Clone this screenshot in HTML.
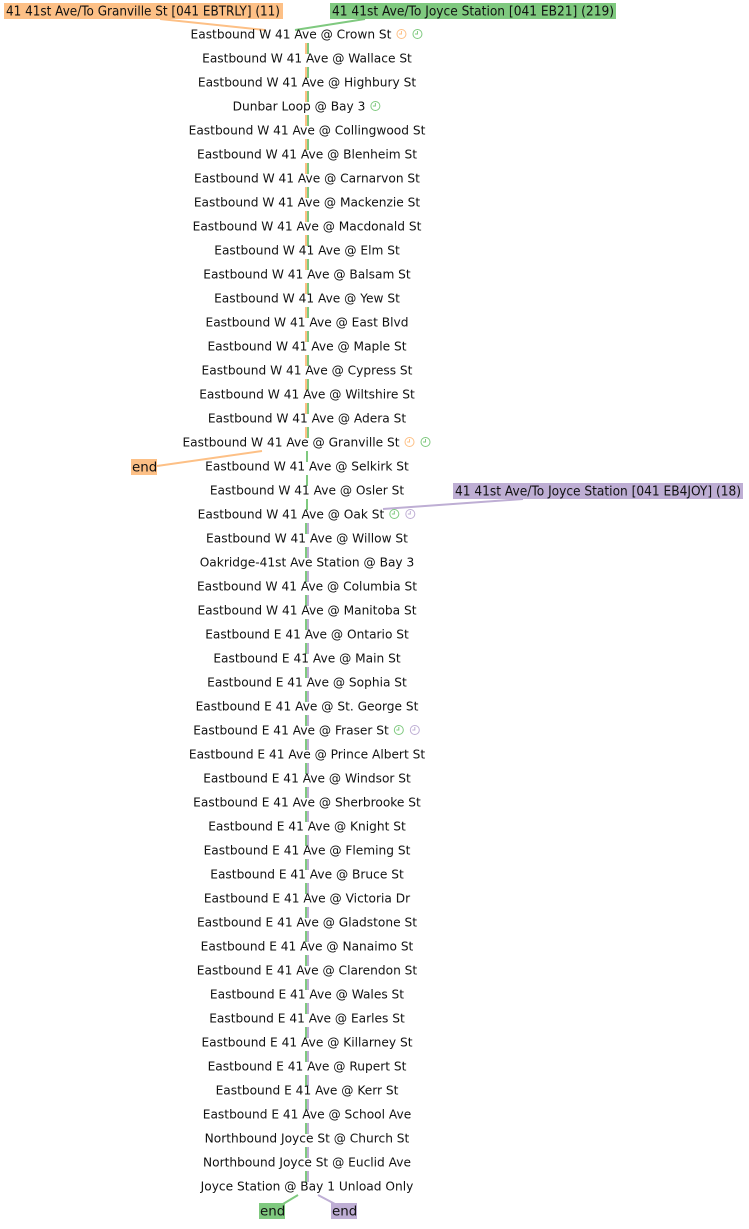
<!DOCTYPE html>
<html><head><style>
html,body{margin:0;padding:0;background:#fff;}
svg text{font-family:"DejaVu Sans","Liberation Sans",sans-serif;font-size:12.2px;fill:#111;}
svg text.tag{font-size:13.4px;}
</style></head><body>
<svg width="749" height="1224" xmlns="http://www.w3.org/2000/svg">
<g id="segs"></g>
<rect x="4" y="3" width="279" height="16" fill="#fdc086"/>
<text class="tag" x="6" y="15.5" textLength="274" lengthAdjust="spacingAndGlyphs">41 41st Ave/To Granville St [041 EBTRLY] (11)</text>
<rect x="330" y="3" width="286" height="16" fill="#7fc97f"/>
<text class="tag" x="332" y="15.5" textLength="282" lengthAdjust="spacingAndGlyphs">41 41st Ave/To Joyce Station [041 EB21] (219)</text>
<rect x="453" y="483" width="290" height="16" fill="#beaed4"/>
<text class="tag" x="455" y="495.5" textLength="286" lengthAdjust="spacingAndGlyphs">41 41st Ave/To Joyce Station [041 EB4JOY] (18)</text>
<rect x="131" y="459" width="26" height="16" fill="#fdc086"/>
<text class="tag" x="132" y="471.5">end</text>
<rect x="259" y="1203" width="26" height="16" fill="#7fc97f"/>
<text class="tag" x="260" y="1215.5">end</text>
<rect x="331" y="1203" width="26" height="16" fill="#beaed4"/>
<text class="tag" x="332" y="1215.5">end</text>
<line x1="160" y1="19" x2="265" y2="30" stroke="#fdc086" stroke-width="2"/>
<line x1="365" y1="19" x2="295" y2="30" stroke="#7fc97f" stroke-width="2"/>
<line x1="262" y1="451" x2="157" y2="466" stroke="#fdc086" stroke-width="2"/>
<line x1="523" y1="499" x2="383" y2="509" stroke="#beaed4" stroke-width="2"/>
<line x1="298" y1="1195" x2="283" y2="1204" stroke="#7fc97f" stroke-width="2"/>
<line x1="318" y1="1195" x2="335" y2="1204" stroke="#beaed4" stroke-width="2"/>
<g id="labels"></g>
</svg>
<script>
var names=["Eastbound W 41 Ave @ Crown St","Eastbound W 41 Ave @ Wallace St","Eastbound W 41 Ave @ Highbury St","Dunbar Loop @ Bay 3","Eastbound W 41 Ave @ Collingwood St","Eastbound W 41 Ave @ Blenheim St","Eastbound W 41 Ave @ Carnarvon St","Eastbound W 41 Ave @ Mackenzie St","Eastbound W 41 Ave @ Macdonald St","Eastbound W 41 Ave @ Elm St","Eastbound W 41 Ave @ Balsam St","Eastbound W 41 Ave @ Yew St","Eastbound W 41 Ave @ East Blvd","Eastbound W 41 Ave @ Maple St","Eastbound W 41 Ave @ Cypress St","Eastbound W 41 Ave @ Wiltshire St","Eastbound W 41 Ave @ Adera St","Eastbound W 41 Ave @ Granville St","Eastbound W 41 Ave @ Selkirk St","Eastbound W 41 Ave @ Osler St","Eastbound W 41 Ave @ Oak St","Eastbound W 41 Ave @ Willow St","Oakridge-41st Ave Station @ Bay 3","Eastbound W 41 Ave @ Columbia St","Eastbound W 41 Ave @ Manitoba St","Eastbound E 41 Ave @ Ontario St","Eastbound E 41 Ave @ Main St","Eastbound E 41 Ave @ Sophia St","Eastbound E 41 Ave @ St. George St","Eastbound E 41 Ave @ Fraser St","Eastbound E 41 Ave @ Prince Albert St","Eastbound E 41 Ave @ Windsor St","Eastbound E 41 Ave @ Sherbrooke St","Eastbound E 41 Ave @ Knight St","Eastbound E 41 Ave @ Fleming St","Eastbound E 41 Ave @ Bruce St","Eastbound E 41 Ave @ Victoria Dr","Eastbound E 41 Ave @ Gladstone St","Eastbound E 41 Ave @ Nanaimo St","Eastbound E 41 Ave @ Clarendon St","Eastbound E 41 Ave @ Wales St","Eastbound E 41 Ave @ Earles St","Eastbound E 41 Ave @ Killarney St","Eastbound E 41 Ave @ Rupert St","Eastbound E 41 Ave @ Kerr St","Eastbound E 41 Ave @ School Ave","Northbound Joyce St @ Church St","Northbound Joyce St @ Euclid Ave","Joyce Station @ Bay 1 Unload Only"];
var clocks={0:["#fdc086","#7fc97f"],3:["#7fc97f"],17:["#fdc086","#7fc97f"],20:["#7fc97f","#beaed4"],29:["#7fc97f","#beaed4"]};
var NS="http://www.w3.org/2000/svg",L=document.getElementById("labels"),S=document.getElementById("segs");
function el(t,a,p){var e=document.createElementNS(NS,t);for(var k in a)e.setAttribute(k,a[k]);p.appendChild(e);return e;}
for(var i=0;i<names.length;i++){
 var y=34+24*i;
 var t=el("text",{x:307,y:y+4.5,"text-anchor":"start"},L);t.textContent=names[i];
 var w=t.getComputedTextLength(),cl=clocks[i]||[],tot=w+cl.length*16;
 var sx=307-tot/2;t.setAttribute("x",sx);
 var x=sx+w+10;
 cl.forEach(function(c){el("circle",{cx:x,cy:y,r:4.5,fill:"none",stroke:c,"stroke-width":1},L);
   el("path",{d:"M"+x+" "+(y-3)+"V"+y+"H"+(x-2.5),fill:"none",stroke:c,"stroke-width":1},L);x+=16;});
 if(i<48){var y1=y+9,y2=y+20;
  if(i<17){el("rect",{x:305,y:y1,width:2,height:y2-y1,fill:"#fdc086"},S);el("rect",{x:307,y:y1,width:2,height:y2-y1,fill:"#7fc97f"},S);}
  else if(i<20){el("rect",{x:306,y:y1,width:2,height:y2-y1,fill:"#7fc97f"},S);}
  else{el("rect",{x:305,y:y1,width:2,height:y2-y1,fill:"#7fc97f"},S);el("rect",{x:307,y:y1,width:2,height:y2-y1,fill:"#beaed4"},S);}
 }
}
</script>
</body></html>
